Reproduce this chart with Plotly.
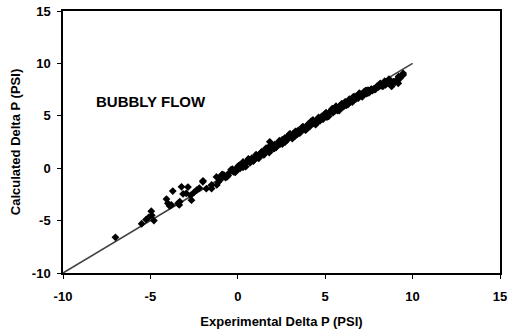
import plotly.graph_objects as go

# --- data ---
line_x = [-10, 10]
line_y = [-10, 10]

sparse_x = [-7.0, -5.5, -5.25, -5.1, -4.95, -4.92, -4.8, -4.08, -4.0, -3.9, -3.72, -3.8,
            -3.42, -3.32, -3.22, -3.13, -2.85, -2.65, -2.7, -2.5, -2.36, -2.0, -1.99, -1.8,
            -1.5, -1.5, -1.22, -1.2, -2.2, -3.35, -2.95, -1.0, -0.9, -0.7, 1.83,
            -0.95, -0.55, -0.3, -1.1]
sparse_y = [-6.6, -5.3, -4.9, -4.7, -4.1, -4.5, -5.0, -2.95, -3.35, -3.6, -2.18, -3.5,
            -3.35, -3.2, -1.78, -2.45, -1.8, -3.05, -2.6, -2.3, -2.1, -1.3, -1.2, -1.95,
            -1.94, -1.6, -0.83, -1.6, -1.9, -3.5, -2.4, -1.1, -0.6, -0.9, 2.52,
            -0.75, -0.7, -0.1, -1.3]

band_x = [-0.8, -0.62, -0.5, -0.38, -0.25, -0.15, -0.05, 0.05, 0.12, 0.2, 0.3, 0.38, 0.45,
          0.55, 0.62, 0.7, 0.8, 0.88, 0.95, 1.05, 1.12, 1.2, 1.3, 1.38, 1.45, 1.55, 1.62,
          1.7, 1.8, 1.88, 1.95, 2.05, 2.12, 2.2, 2.3, 2.38, 2.45, 2.55, 2.62, 2.7, 2.8,
          2.88, 2.95, 3.05, 3.12, 3.2, 3.3, 3.38, 3.45, 3.55, 3.62, 3.7, 3.8, 3.88, 3.95,
          4.05, 4.12, 4.2, 4.3, 4.38, 4.45, 4.55, 4.62, 4.7, 4.8, 4.88, 4.95, 5.05, 5.12,
          5.2, 5.3, 5.38, 5.45, 5.55, 5.62, 5.7, 5.8, 5.88, 5.95, 6.05, 6.12, 6.2, 6.3,
          6.38, 6.45, 6.55, 6.62, 6.7, 6.8, 6.88, 6.95, 7.05, 7.12, 7.2, 7.3, 7.38, 7.45,
          7.55, 7.62, 7.7, 7.8, 7.88, 7.95]
band_y = [-0.65, -0.82, -0.45, -0.13, -0.35, -0.40, 0.05, 0.25, -0.03, 0.2, 0.6, 0.33, 0.15,
          0.67, 0.84, 0.52, 0.95, 0.68, 1.0, 1.3, 1.02, 0.95, 1.4, 1.58, 1.3, 1.55, 1.92,
          1.65, 1.5, 2.0, 2.17, 1.87, 2.27, 2.0, 2.35, 2.63, 2.35, 2.3, 2.72, 2.9, 2.65,
          2.88, 3.25, 3.0, 2.82, 3.32, 3.52, 3.2, 3.6, 3.35, 3.67, 3.95, 3.7, 3.63, 4.05,
          4.25, 3.97, 4.2, 4.6, 4.33, 4.15, 4.67, 4.84, 4.52, 4.95, 4.68, 5.0, 5.3, 5.02,
          4.95, 5.4, 5.58, 5.3, 5.55, 5.92, 5.65, 5.5, 6.0, 6.17, 5.87, 6.27, 6.0, 6.35,
          6.58, 6.35, 6.3, 6.72, 6.85, 6.65, 6.88, 7.15, 6.95, 6.82, 7.25, 7.4, 7.13, 7.45,
          7.3, 7.52, 7.4, 7.6, 7.53, 7.8]

band2_x = [0.0, 0.15, 0.3, 0.45, 0.6, 0.75, 0.9, 1.05, 1.2, 1.35, 1.5, 1.65, 1.8, 1.95, 2.1,
           2.25, 2.4, 2.55, 2.7, 2.85, 3.0, 3.15, 3.3, 3.45, 3.6, 3.75, 3.9, 4.05, 4.2, 4.35,
           4.5, 4.65, 4.8, 4.95, 5.1, 5.25, 5.4, 5.55, 5.7, 5.85, 6.0, 6.15, 6.3, 6.45, 6.6,
           6.75, 6.9, 7.05, 7.2, 7.35, 7.5, 7.65, 7.8]
band2_y = [-0.12, 0.33, 0.08, 0.53, 0.88, 0.67, 0.7, 1.07, 1.08, 1.53, 1.28, 1.73, 2.08, 1.87,
           1.9, 2.27, 2.28, 2.73, 2.48, 2.93, 3.28, 3.07, 3.1, 3.47, 3.48, 3.93, 3.68, 4.13,
           4.48, 4.27, 4.3, 4.67, 4.68, 5.13, 4.88, 5.33, 5.68, 5.47, 5.5, 5.87, 5.88, 6.33,
           6.08, 6.53, 6.8, 6.67, 6.7, 7.07, 7.0, 7.4, 7.2, 7.55, 7.5]

tail_x = [8.05, 8.1, 8.2, 8.3, 8.32, 8.45, 8.6, 8.55, 8.8, 8.75, 8.9, 9.0, 9.18, 9.2, 9.27,
          9.46, 9.46, 9.1, 8.4, 8.15, 8.65]
tail_y = [7.75, 7.95, 7.85, 7.8, 8.05, 7.95, 8.1, 8.25, 7.8, 8.3, 8.25, 8.2, 8.1, 8.75, 8.55,
          8.9, 9.05, 8.45, 8.3, 8.1, 8.5]

x_ticks = [-10, -5, 0, 5, 10, 15]
y_ticks = [-10, -5, 0, 5, 10, 15]

pts_x = sparse_x + band_x + band2_x + tail_x
pts_y = sparse_y + band_y + band2_y + tail_y

font_family = "Liberation Sans, Arial, sans-serif"

fig = go.Figure()
fig.add_trace(go.Scatter(x=line_x, y=line_y, mode="lines",
                         line=dict(color="#404040", width=1.6), hoverinfo="skip"))
fig.add_trace(go.Scatter(x=pts_x, y=pts_y, mode="markers",
                         marker=dict(symbol="diamond", size=6, color="black",
                                     line=dict(width=0))))

axis_common = dict(
    showgrid=False, zeroline=False, showline=True, linecolor="black", linewidth=1.5,
    mirror=True, ticks="outside", ticklen=4, tickwidth=1.2, tickcolor="black",
    tickfont=dict(family=font_family, size=13, color="black", weight="bold"),
    automargin=False,
)

fig.update_layout(
    width=516, height=331,
    margin=dict(l=63, r=16, t=11, b=58),
    paper_bgcolor="white", plot_bgcolor="white",
    showlegend=False,
    xaxis=dict(range=[-10, 15], tickvals=x_ticks, ticktext=[str(v) for v in x_ticks],
               ticklabelstandoff=7,
               title=dict(text="Experimental Delta P (PSI)", standoff=14,
                          font=dict(family=font_family, size=13, color="black", weight="bold")),
               **axis_common),
    yaxis=dict(range=[-10, 15], tickvals=y_ticks, ticktext=[str(v) for v in y_ticks],
               ticklabelstandoff=4,
               title=dict(text="Calculated Delta P (PSI)", standoff=8,
                          font=dict(family=font_family, size=13, color="black", weight="bold")),
               **axis_common),
    annotations=[dict(x=-8.2, y=6.35, xref="x", yref="y", xanchor="left", yanchor="middle",
                      text="BUBBLY FLOW", showarrow=False,
                      font=dict(family=font_family, size=15, color="black", weight="bold"))],
)

fig.write_html("out.html")
